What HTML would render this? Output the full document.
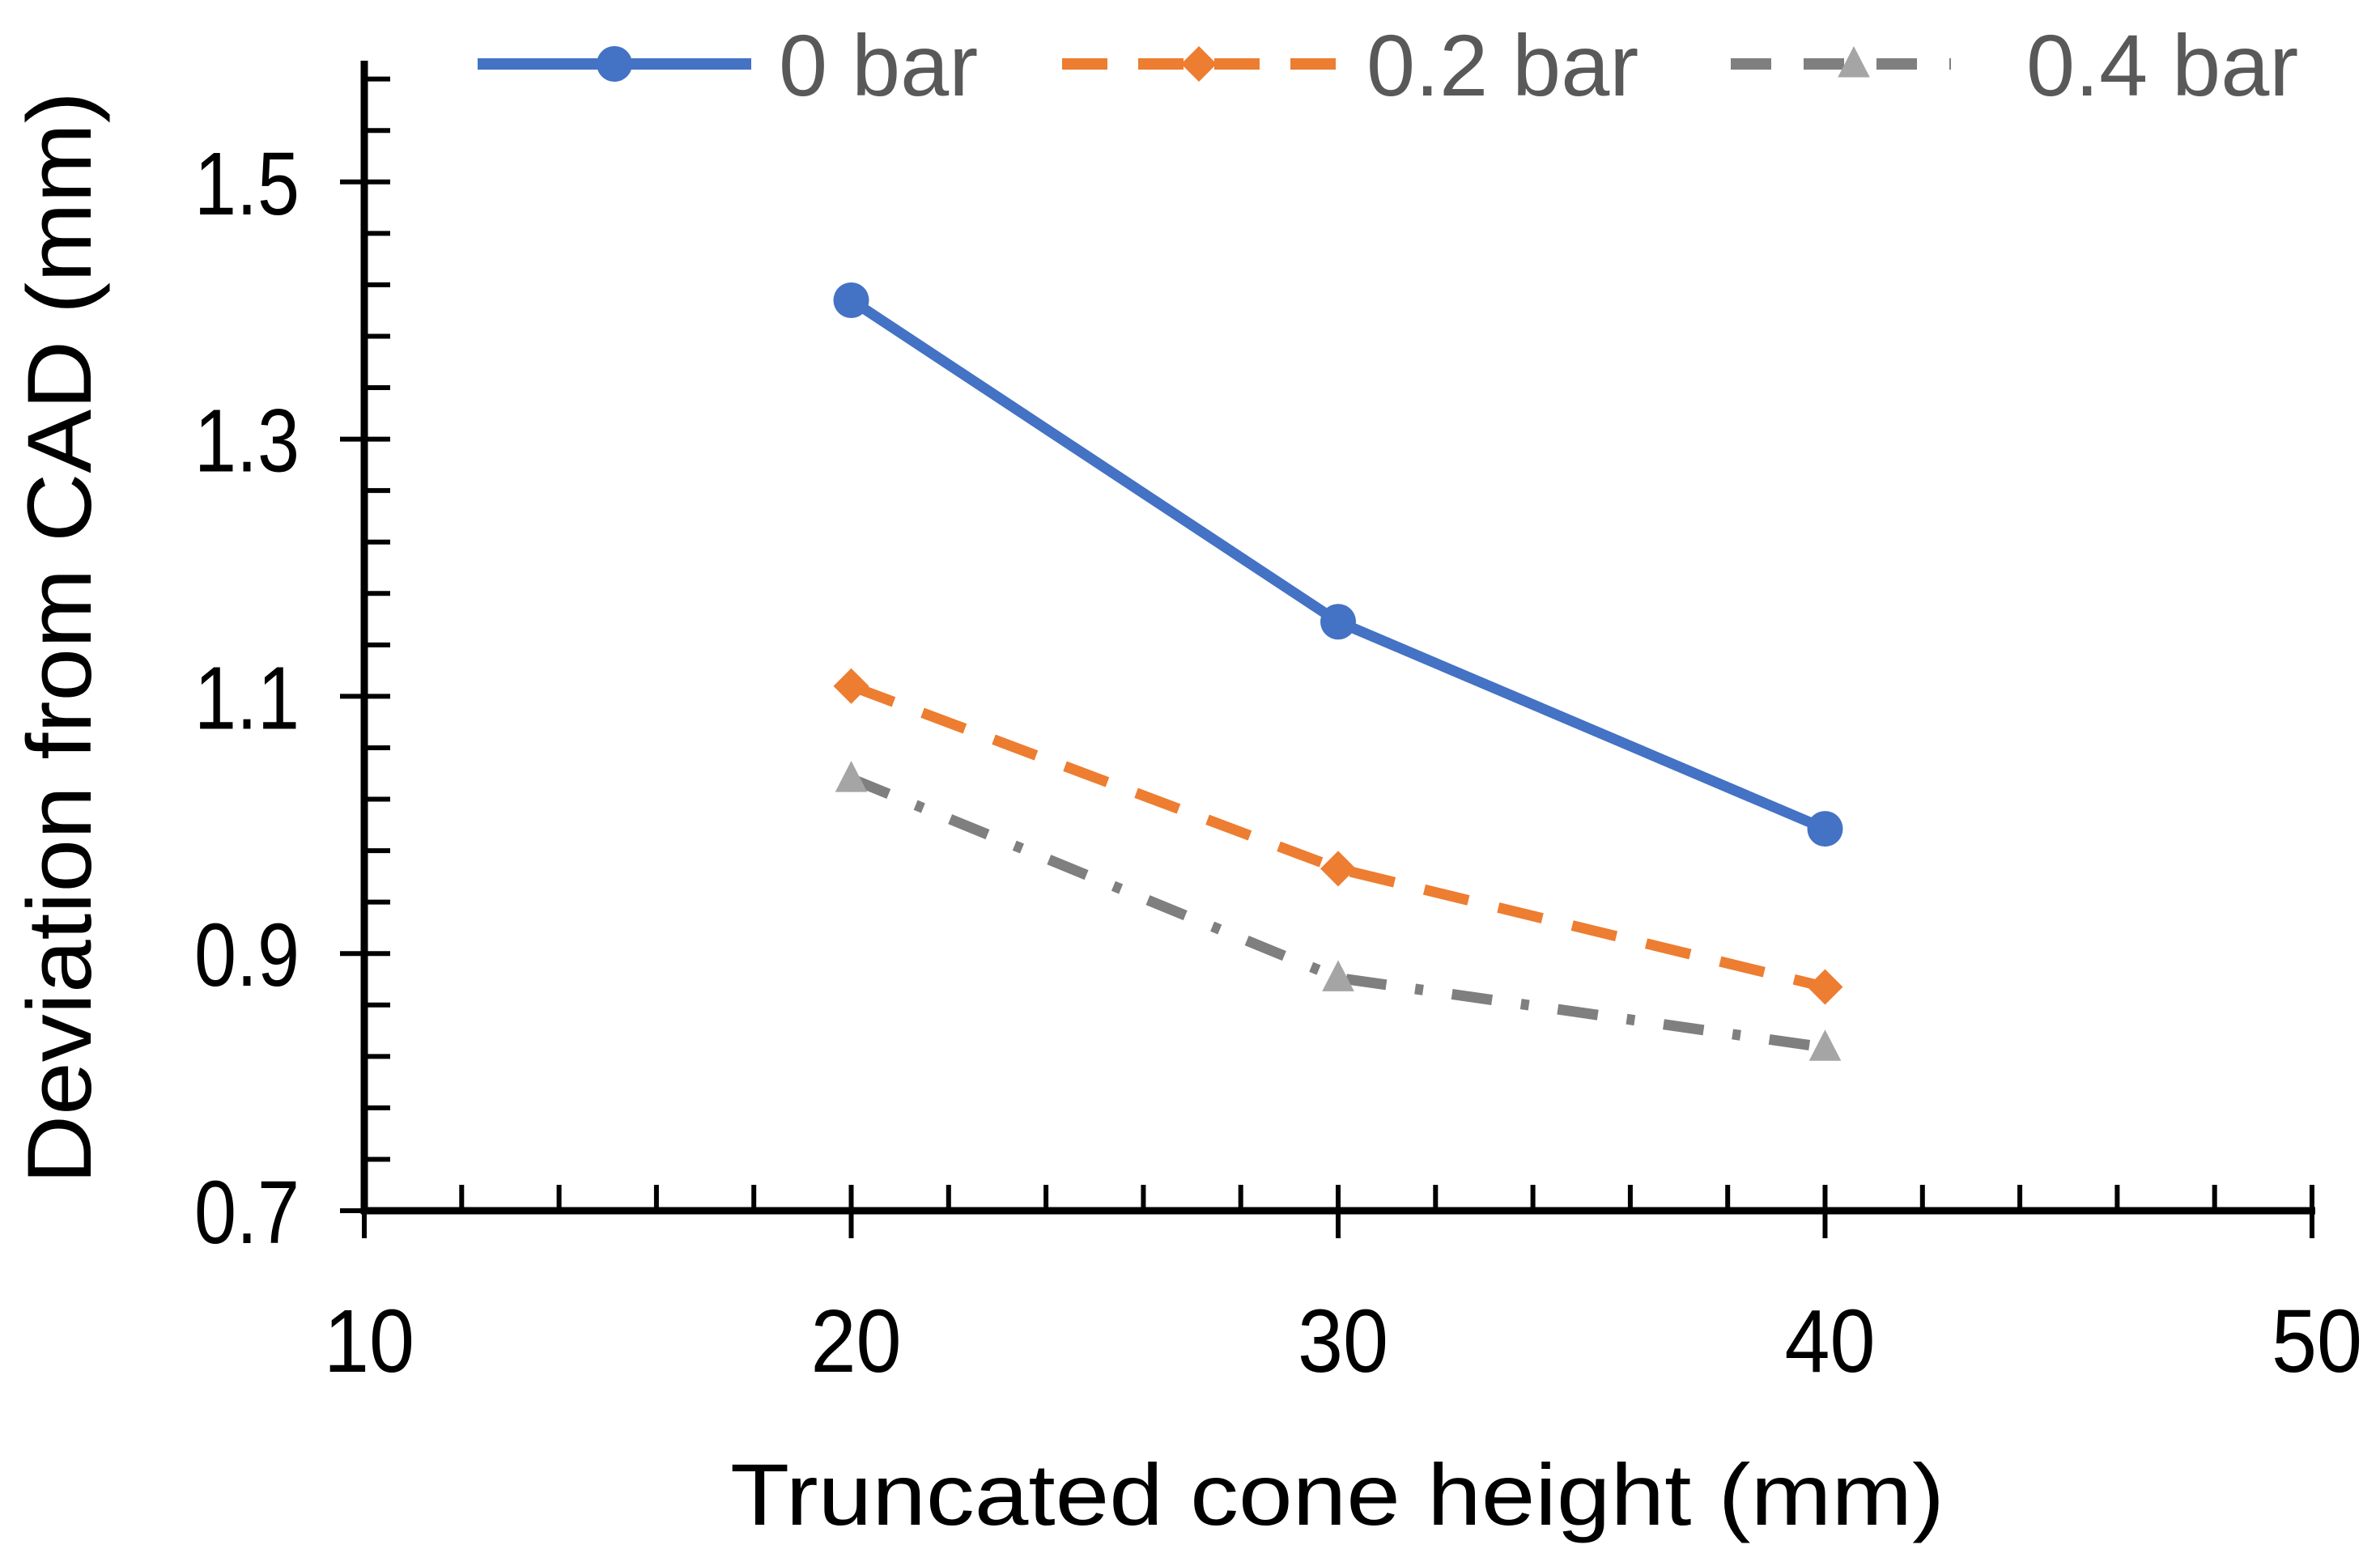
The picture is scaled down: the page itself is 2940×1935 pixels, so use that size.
<!DOCTYPE html>
<html><head><meta charset="utf-8"><style>
html,body{margin:0;padding:0;background:#fff;}
svg{display:block;font-family:"Liberation Sans",sans-serif;}
</style></head><body>
<svg id="chart" width="2940" height="1935" viewBox="0 0 2940 1935" xmlns="http://www.w3.org/2000/svg">
<g id="axes"></g>
<g id="series"></g>
<text x="0" y="0" transform="translate(112,788) rotate(-90)" text-anchor="middle" font-size="112" fill="#000" textLength="1350" lengthAdjust="spacingAndGlyphs">Deviation from CAD (mm)</text>
<text x="1652" y="1884" text-anchor="middle" font-size="108" fill="#000" textLength="1500" lengthAdjust="spacingAndGlyphs">Truncated cone height (mm)</text>
<g id="legend"></g>
</svg>
<script>
const categories = [20, 30, 40];
const series0 = [1.408, 1.158, 0.997];
const series02 = [1.108, 0.966, 0.874];
const series04 = [1.036, 0.881, 0.827];
const seriesNames = ["0 bar", "0.2 bar", "0.4 bar"];
const xTicks = [10, 20, 30, 40, 50];
const yTicks = ["0.7", "0.9", "1.1", "1.3", "1.5"];

const NS = "http://www.w3.org/2000/svg";
function X(v){ return 450 + (v - 10) * 60.15; }
function Y(v){ return 1496 - (v - 0.7) * 1589; }
function mk(tag, attrs, parent){
  const e = document.createElementNS(NS, tag);
  for (const k in attrs) e.setAttribute(k, attrs[k]);
  parent.appendChild(e); return e;
}
const axes = document.getElementById('axes');
const ser = document.getElementById('series');
const leg = document.getElementById('legend');

let yl = mk('line', {x1:450, y1:75, x2:450, y2:1500, stroke:'#000','stroke-width':9}, axes);


let xl = mk('line', {x1:446, y1:1496, x2:2860, y2:1496, stroke:'#000','stroke-width':9}, axes);



for (let v = 0.74; v < 1.6; v += 0.04) {
  const t = mk('line', {x1:450, y1:Y(v), x2:482, y2:Y(v), stroke:'#000','stroke-width':6}, axes);
  
  
}
yTicks.forEach(s => {
  const v = parseFloat(s);
  const t = mk('line', {x1:420, y1:Y(v), x2:450, y2:Y(v), stroke:'#000','stroke-width':6}, axes);
  
  
  const tx = mk('text', {x:370, y:Y(v)+40, 'text-anchor':'end','font-size':110, fill:'#000', textLength:130, lengthAdjust:'spacingAndGlyphs'}, axes);
  tx.textContent = s;
  
  
});
for (let v = 12; v < 50; v += 2) {
  if (v % 10 === 0) continue;
  const t = mk('line', {x1:X(v), y1:1464, x2:X(v), y2:1496, stroke:'#000','stroke-width':6}, axes);
  
  
}
xTicks.forEach(v => {
  const t = mk('line', {x1:X(v), y1:1464, x2:X(v), y2:1530, stroke:'#000','stroke-width':6}, axes);
  
  
  const tx = mk('text', {x:X(v)+6, y:1695, 'text-anchor':'middle','font-size':110, fill:'#000', textLength:112, lengthAdjust:'spacingAndGlyphs'}, axes);
  tx.textContent = String(v);
  
  
});

const styles = [
  {color:'#4472C4', dash:'', ldash:'', marker:'circle', mcolor:'#4472C4', w:13},
  {color:'#ED7D31', dash:'56 38', ldash:'56 38', marker:'diamond', mcolor:'#ED7D31', w:13},
  {color:'#7F7F7F', dash:'50 36 10 36', ldash:'50 40', marker:'triangle', mcolor:'#A5A5A5', w:13}
];
function marker(type, cx, cy, color, parent, r){
  let e;
  if (type === 'circle') e = mk('circle', {cx:cx, cy:cy, r:r, fill:color}, parent);
  else if (type === 'diamond') e = mk('polygon', {points:`${cx},${cy-r} ${cx+r},${cy} ${cx},${cy+r} ${cx-r},${cy}`, fill:color}, parent);
  else e = mk('polygon', {points:`${cx},${cy-r} ${cx+r*0.9},${cy+r*0.75} ${cx-r*0.9},${cy+r*0.75}`, fill:color}, parent);
  return e;
}
[series0, series02, series04].forEach((vals, i) => {
  const st = styles[i];
  const pts = vals.map((v, j) => X(categories[j]) + ',' + Y(v)).join(' ');
  const pl = mk('polyline', {points:pts, fill:'none', stroke:st.color, 'stroke-width':st.w, 'stroke-dasharray':st.dash, 'stroke-linejoin':'round'}, ser);
  
  
  vals.forEach((v, j) => {
    const m = marker(st.marker, X(categories[j]), Y(v), st.mcolor, ser, 22);
    
    
  });
});

const legX = [[590, 928, 759, 962], [1312, 1650, 1481, 1688], [2138, 2410, 2290, 2503]];
seriesNames.forEach((name, i) => {
  const st = styles[i];
  const [a, b, c, t] = legX[i];
  const l = mk('line', {x1:a, y1:79, x2:b, y2:79, stroke:st.color, 'stroke-width':14, 'stroke-dasharray':st.ldash}, leg);
  
  
  const m = marker(st.marker, c, 79, st.mcolor, leg, 22);
  
  
  const tx = mk('text', {x:t, y:118, 'font-size':108, fill:'#595959'}, leg);
  tx.textContent = name;
  
  
});
</script>
</body></html>
